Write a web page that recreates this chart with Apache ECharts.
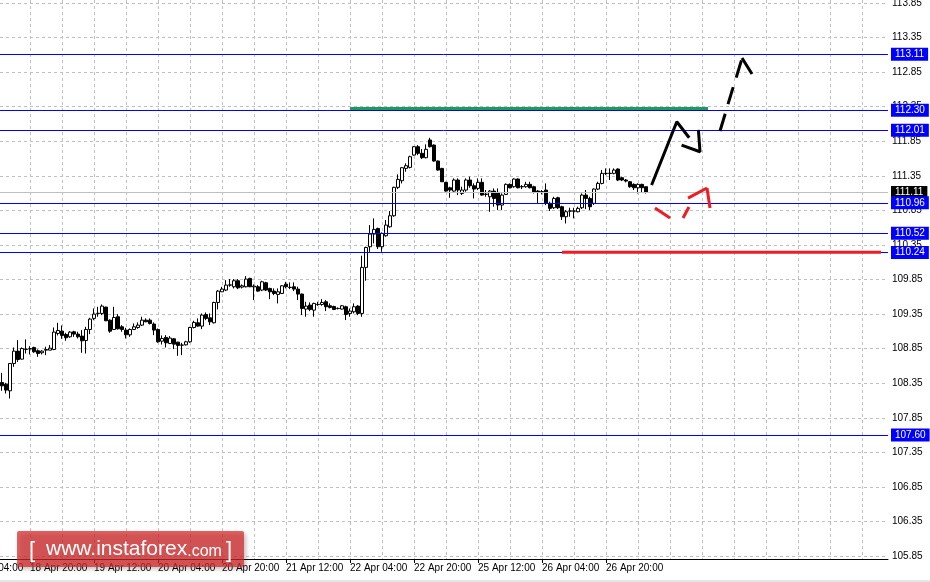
<!DOCTYPE html>
<html><head><meta charset="utf-8">
<script src="https://cdn.jsdelivr.net/npm/echarts@6/dist/echarts.min.js"></script>
<style>html,body{margin:0;padding:0;background:#fff;}#c{width:930px;height:582px;}</style>
</head><body><div id="c"></div>
<script>
// ---- data ----
const tickLabels = ['18 Apr 04:00','18 Apr 20:00','19 Apr 12:00','20 Apr 04:00','20 Apr 20:00','21 Apr 12:00','22 Apr 04:00','22 Apr 20:00','25 Apr 12:00','26 Apr 04:00','26 Apr 20:00'];
const yTicks = [105.85,106.35,106.85,107.35,107.85,108.35,108.85,109.35,109.85,110.35,110.85,111.35,111.85,112.35,112.85,113.35,113.85];
const gridSlots = [16,24,32,40,48,56,64,72,80,88,96,104,112,120,128,136,144,152,160,168,176,184,192,200,208,216,224];
const opens = [108.360,108.336,108.240,108.635,108.814,108.698,108.838,108.845,108.867,108.819,108.790,108.828,108.828,108.838,109.070,109.103,109.055,109.021,109.094,109.060,109.031,108.968,109.127,109.287,109.357,109.359,109.451,109.262,109.127,109.311,109.166,109.118,109.050,109.127,109.156,109.190,109.262,109.262,109.205,109.127,108.958,109.012,108.925,108.992,108.944,108.900,108.905,108.949,109.156,109.224,109.176,109.344,109.296,109.224,109.518,109.672,109.697,109.769,109.745,109.832,109.740,109.745,109.866,109.742,109.745,109.697,109.803,109.721,109.682,109.634,109.648,109.783,109.737,109.745,109.711,109.639,109.422,109.480,109.407,109.487,109.489,109.528,109.470,109.460,109.432,109.422,109.456,109.359,109.383,109.465,109.359,110.025,110.324,110.507,110.589,110.324,110.483,110.613,110.772,111.183,111.279,111.457,111.472,111.650,111.771,111.675,111.612,111.868,111.795,111.564,111.457,111.255,111.177,111.129,111.289,111.095,111.144,111.289,111.206,111.168,111.255,111.081,111.047,111.129,111.110,110.927,111.081,111.226,111.192,111.303,111.190,111.192,111.226,111.192,111.129,111.118,111.144,110.951,110.888,111.033,110.903,110.758,110.838,110.838,110.830,110.888,111.071,111.023,110.951,111.158,111.240,111.383,111.383,111.385,111.448,111.322,111.289,111.264,111.226,111.177,111.226,111.192];
const highs = [108.500,108.356,108.640,108.867,108.973,108.867,108.983,108.886,108.877,108.838,108.828,108.877,108.901,109.156,109.224,109.185,109.079,109.103,109.108,109.094,109.118,109.166,109.296,109.431,109.455,109.489,109.455,109.272,109.455,109.349,109.190,109.151,109.142,109.214,109.229,109.311,109.287,109.287,109.229,109.142,109.041,109.045,109.031,109.002,108.949,108.934,108.963,109.166,109.253,109.287,109.359,109.373,109.359,109.528,109.697,109.745,109.841,109.856,109.856,109.856,109.779,109.899,109.875,109.779,109.769,109.832,109.817,109.730,109.721,109.721,109.769,109.817,109.808,109.808,109.745,109.648,109.528,109.518,109.514,109.528,109.566,109.552,109.504,109.470,109.446,109.480,109.470,109.431,109.504,109.480,110.194,110.324,110.637,110.734,110.599,110.531,110.710,110.840,111.192,111.371,111.477,111.530,111.641,111.781,111.795,111.737,111.805,111.900,111.805,111.570,111.465,111.264,111.192,111.313,111.313,111.192,111.313,111.337,111.240,111.313,111.313,111.144,111.144,111.168,111.168,111.095,111.240,111.240,111.313,111.313,111.216,111.264,111.264,111.206,111.144,111.144,111.240,110.975,111.047,111.047,110.917,110.854,110.888,110.888,110.903,111.095,111.144,111.047,111.168,111.264,111.433,111.457,111.457,111.457,111.457,111.337,111.303,111.274,111.240,111.240,111.235,111.192];
const lows = [108.240,108.201,108.129,108.587,108.659,108.693,108.780,108.766,108.790,108.732,108.766,108.756,108.826,108.828,109.041,108.992,108.963,109.007,109.021,108.997,108.790,108.780,109.060,109.262,109.311,109.335,109.248,109.079,109.118,109.127,109.094,108.997,109.021,109.118,109.137,109.176,109.233,109.200,109.045,108.934,108.910,108.867,108.915,108.843,108.746,108.756,108.896,108.934,109.142,109.166,109.132,109.262,109.190,109.214,109.417,109.670,109.682,109.745,109.721,109.711,109.721,109.735,109.740,109.552,109.672,109.682,109.682,109.566,109.624,109.504,109.639,109.721,109.711,109.682,109.552,109.335,109.311,109.393,109.311,109.470,109.470,109.393,109.431,109.407,109.417,109.417,109.263,109.311,109.359,109.335,109.311,109.832,110.251,110.372,110.290,110.251,110.469,110.599,110.758,111.158,111.240,111.409,111.457,111.641,111.650,111.592,111.602,111.760,111.554,111.425,111.260,111.120,111.033,111.120,111.071,111.071,111.120,111.177,111.023,111.144,111.062,111.047,110.830,110.903,110.854,110.854,111.071,111.168,111.177,111.168,111.158,111.177,111.168,111.095,110.951,111.081,110.927,110.840,110.869,110.869,110.710,110.661,110.758,110.734,110.821,110.869,110.869,110.854,110.927,111.144,111.226,111.361,111.289,111.371,111.274,111.274,111.255,111.177,111.144,111.095,111.110,111.095];
const closes = [108.312,108.250,108.635,108.814,108.693,108.852,108.843,108.850,108.804,108.780,108.814,108.838,108.857,109.089,109.113,109.041,109.007,109.089,109.060,109.021,108.963,109.127,109.277,109.349,109.362,109.465,109.253,109.103,109.301,109.137,109.127,109.050,109.127,109.166,109.190,109.262,109.238,109.214,109.118,108.949,108.997,108.934,109.002,108.915,108.896,108.902,108.949,109.156,109.229,109.176,109.335,109.287,109.238,109.518,109.682,109.711,109.769,109.772,109.832,109.730,109.759,109.856,109.745,109.755,109.682,109.817,109.697,109.672,109.648,109.672,109.759,109.745,109.735,109.711,109.639,109.431,109.465,109.417,109.504,109.491,109.518,109.456,109.446,109.417,109.430,109.470,109.344,109.393,109.456,109.359,110.025,110.314,110.507,110.575,110.324,110.517,110.637,110.772,111.183,111.298,111.467,111.496,111.626,111.771,111.675,111.612,111.733,111.771,111.564,111.433,111.264,111.129,111.144,111.289,111.144,111.144,111.289,111.206,111.158,111.255,111.071,111.085,111.129,111.023,110.927,111.071,111.226,111.177,111.303,111.177,111.195,111.226,111.177,111.110,111.110,111.122,110.951,110.879,111.023,110.888,110.758,110.830,110.842,110.842,110.879,111.071,111.023,110.903,111.158,111.240,111.385,111.387,111.387,111.433,111.289,111.289,111.274,111.192,111.177,111.226,111.177,111.110];
const levelPrices = [113.11, 112.30, 112.01, 110.96, 110.52, 110.24, 107.60];
const bidPrice = 111.11;
const greenLevel = [[96, 112.325], [185.5, 112.325]];
const redLevel = [[149, 110.245], [228.75, 110.245]];
const blackShaft = [[171.4, 111.216], [177.7, 112.132], [180.8, 111.901]];
const blackHead = [[178.9, 111.795], [183.5, 111.698], [183.1, 112.013]];
const blackDashes = [
  [[188.5, 111.998], [189.8, 112.247]],
  [[190.5, 112.386], [191.8, 112.632]],
  [[192.55, 112.771], [193.85, 113.020]],
  [[194.0, 113.054], [196.5, 112.822]]
];
const redDashes = [
  [[172.25, 110.883], [176.0, 110.739]],
  [[179.25, 110.739], [180.75, 110.898]],
  [[180.5, 111.028], [185.25, 111.173]],
  [[185.25, 111.173], [186.0, 110.883]]
];
const firstCandleSlot = 9;
const slotCount = 231;

// ---- fonts ----
function hasFont(name) {
  const ctx = document.createElement('canvas').getContext('2d');
  const t = '113.85 Apr 20:00';
  ctx.font = '40px monospace';
  const a = ctx.measureText(t).width;
  ctx.font = '40px "' + name + '", monospace';
  return ctx.measureText(t).width !== a;
}
const narrow = hasFont('Liberation Sans Narrow');
const FONT = narrow ? '"Liberation Sans Narrow", "Liberation Sans", sans-serif' : '"Liberation Sans", Arial, sans-serif';
const FS = narrow ? 11 : 10;

// ---- build ----
const slots = [];
const candleData = [];
for (let i = 0; i < slotCount; i++) {
  slots.push(String(i));
  const j = i - firstCandleSlot;
  if (j >= 0 && j < opens.length) candleData.push([opens[j], closes[j], lows[j], highs[j]]);
  else candleData.push('-');
}
const showTick = (idx) => idx % 16 === 0 && idx / 16 < tickLabels.length;

function overlay(data, color, width) {
  return {
    type: 'line', xAxisIndex: 1, yAxisIndex: 0, data: data, symbol: 'none', silent: true,
    lineStyle: { color: color, width: width || 3, type: 'solid', cap: 'butt' },
    z: 5
  };
}

const series = [
  {
    type: 'line', data: [], xAxisIndex: 0, yAxisIndex: 0, clip: false, silent: true,
    markLine: {
      symbol: ['none', 'none'], silent: true, animation: false,
      lineStyle: { color: '#c0c0c0', width: 1, type: 'solid' },
      label: { show: true, position: 'end', distance: 3, formatter: (p) => p.value.toFixed(2), color: '#fff', backgroundColor: '#000', padding: [2, 4, 1, 4], fontSize: FS, fontFamily: FONT },
      data: [{ yAxis: bidPrice }]
    }
  },
  {
    type: 'candlestick', xAxisIndex: 0, yAxisIndex: 0, data: candleData, barWidth: 3,
    itemStyle: { color: '#fff', color0: '#000', borderColor: '#000', borderColor0: '#000', borderWidth: 1 },
    silent: true
  },
  {
    type: 'line', data: [], xAxisIndex: 0, yAxisIndex: 0, clip: false, silent: true, z: 4,
    markLine: {
      symbol: ['none', 'none'], silent: true, animation: false,
      lineStyle: { color: '#0000ff', width: 1, type: 'solid' },
      label: { show: true, position: 'end', distance: 3, formatter: (p) => p.value.toFixed(2), color: '#fff', backgroundColor: '#0000ff', padding: [2, 4, 1, 4], fontSize: FS, fontFamily: FONT },
      data: levelPrices.map((v) => ({ yAxis: v }))
    }
  },
  overlay(greenLevel, '#1f9a5a'),
  overlay(redLevel, '#ee1c24'),
  overlay(blackShaft, '#000'),
  overlay(blackHead, '#000')
];
blackDashes.forEach((d) => series.push(overlay(d, '#000')));
redDashes.forEach((d) => series.push(overlay(d, '#ee1c24')));

const chart = echarts.init(document.getElementById('c'), null, { renderer: 'canvas' });
chart.setOption({
  animation: false,
  backgroundColor: '#fff',
  grid: { left: -36, right: 42, top: 0, bottom: 23, containLabel: false, outerBoundsMode: 'none' },
  xAxis: [
    {
      type: 'category', data: slots, boundaryGap: true, position: 'bottom',
      axisLine: { show: true, onZero: false, lineStyle: { color: '#000', width: 1 } },
      axisTick: { show: true, interval: showTick, alignWithLabel: true, length: 4, lineStyle: { color: '#000' } },
      axisLabel: { interval: showTick, formatter: (v) => tickLabels[Number(v) / 16], align: 'left', margin: 4, color: '#000', fontSize: FS, fontFamily: FONT, hideOverlap: false },
      splitLine: { show: false }
    },
    {
      type: 'value', min: -0.5, max: 230.5, position: 'top',
      axisLine: { show: false }, axisLabel: { show: false },
      axisTick: { show: false, customValues: gridSlots },
      splitLine: { show: true, lineStyle: { color: '#c0c0c0', width: 1, type: [3, 3] } }
    }
  ],
  yAxis: [{
    type: 'value', position: 'right', min: 105.807, max: 113.893,
    axisLine: { show: true, lineStyle: { color: '#000', width: 1 } },
    axisTick: { show: true, length: 3, customValues: yTicks, lineStyle: { color: '#000' } },
    axisLabel: { customValues: yTicks, formatter: (v) => v.toFixed(2), margin: 4, color: '#000', fontSize: FS, fontFamily: FONT },
    splitLine: { show: true, lineStyle: { color: '#c0c0c0', width: 1, type: [3, 3] } }
  }],
  series: series,
  graphic: [
    { type: 'rect', x: 0, y: 580, shape: { width: 930, height: 2 }, style: { fill: '#e6e6e6' }, z: 50 },
    { type: 'rect', x: 17, y: 531, shape: { width: 227, height: 36, r: 2 }, style: { fill: 'rgba(215,40,40,0.72)', shadowBlur: 4, shadowColor: 'rgba(0,0,0,0.35)', shadowOffsetX: 2, shadowOffsetY: 2 }, z: 100 },
    { type: 'text', x: 29, y: 562, style: { text: '[', fill: '#fff', font: '22px "Liberation Sans", Arial', verticalAlign: 'bottom' }, z: 101 },
    { type: 'text', x: 46, y: 560, style: {
        text: '{a|www.instaforex}{b|.com}', verticalAlign: 'bottom',
        rich: {
          a: { fill: '#fff', fontSize: 21, fontFamily: '"Liberation Sans", Arial', verticalAlign: 'bottom' },
          b: { fill: '#fff', fontSize: 16, fontFamily: '"Liberation Sans", Arial', verticalAlign: 'bottom' }
        }
      }, z: 101 },
    { type: 'text', x: 226, y: 562, style: { text: ']', fill: '#fff', font: '22px "Liberation Sans", Arial', verticalAlign: 'bottom' }, z: 101 }
  ]
});
</script>
</body></html>
